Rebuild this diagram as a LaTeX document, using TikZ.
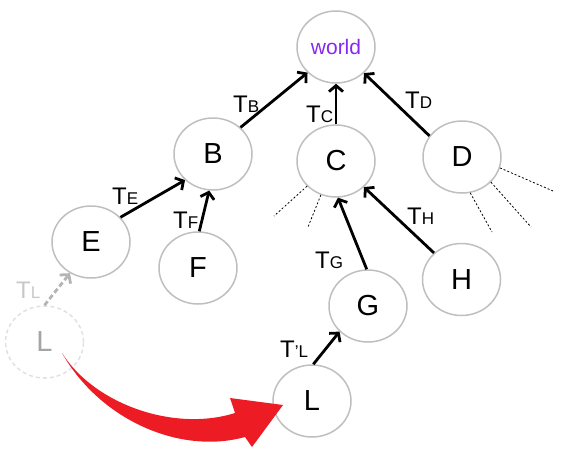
\documentclass[tikz,border=0pt]{standalone}
\usepackage{fontspec}
\setmainfont{Liberation Sans}
\usetikzlibrary{arrows.meta,shapes.geometric}
\definecolor{ringgray}{RGB}{191,191,191}
\definecolor{ghostring}{RGB}{225,225,225}
\definecolor{ghosttext}{RGB}{165,165,165}
\definecolor{ghostlabel}{RGB}{200,200,200}
\definecolor{ghostarrow}{RGB}{180,180,180}
\definecolor{worldpurple}{RGB}{135,40,240}
\definecolor{bigred}{RGB}{237,28,36}
\newcommand{\tlab}[1]{{\fontsize{24}{24}\selectfont T}{\fontsize{17}{17}\selectfont #1}}
\begin{document}
\begin{tikzpicture}[x=1pt,y=-1pt,
  circ/.style={ellipse, draw=ringgray, line width=1.5pt, minimum width=78pt, minimum height=72pt, inner sep=0pt, font=\fontsize{29}{29}\selectfont},
  ghostcirc/.style={circ, draw=ghostring, dash pattern=on 4pt off 3pt, text=ghosttext},
  edge/.style={line width=2.8pt, -{Straight Barb[length=6pt,width=14pt]}},
  ghostedge/.style={edge, draw=ghostarrow, dash pattern=on 5pt off 3pt},
  lab/.style={anchor=base west, inner sep=0pt},
  ray/.style={line width=0.8pt, dash pattern=on 2pt off 2pt}
]
\useasboundingbox (0,0) rectangle (564,452);

% nodes
\node[circ, text=worldpurple, font=\fontsize{21}{21}\selectfont] (world) at (336,47) {world};
\node[circ] (B) at (213,154) {B};
\node[circ] (C) at (336,161) {C};
\node[circ] (D) at (462,157) {D};
\node[circ] (E) at (91,242) {E};
\node[circ] (F) at (198,268) {F};
\node[circ] (G) at (368,306) {G};
\node[circ] (H) at (461.5,279.5) {H};
\node[circ] (L) at (312,401) {L};
\node[ghostcirc] (Lg) at (44.5,342) {L};

% edges
\draw[edge] (B.44) -- (world.222);
\draw[edge] (C.90) -- (world.270);
\draw[edge] (D.147) -- (world.317);
\draw[edge] (E.40) -- (B.223);
\draw[edge] (F.88) -- (B.264);
\draw[edge] (G.92) -- (C.273);
\draw[edge] (H.136) -- (C.317);
\draw[edge] (L.88) -- (G.222);
\draw[ghostedge] (Lg.90) -- (E.236);

% labels
\node[lab] (lB) at (233,112) {\tlab{B}};
\node[lab] (lC) at (306,122) {\tlab{C}};
\node[lab] (lD) at (405,108) {\tlab{D}};
\node[lab] (lE) at (112,204) {\tlab{E}};
\node[lab] (lF) at (173,228) {\tlab{F}};
\node[lab] (lG) at (315,268) {\tlab{G}};
\node[lab] (lH) at (407,224) {\tlab{H}};
\node[lab] (lL) at (280,357) {{\fontsize{24}{24}\selectfont T}{\fontsize{17}{17}\selectfont ’L}};
\node[lab, text=ghostlabel] (lLg) at (16,298) {\tlab{L}};

% dashed rays
\coordinate (c1) at (274,216);
\coordinate (c2) at (308,227);
\coordinate (d1) at (553,191);
\coordinate (d2) at (531,227);
\coordinate (d3) at (492,232);
\draw[ray] (C.221) -- (c1);
\draw[ray] (C.246) -- (c2);
\draw[ray] (D.344) -- (d1);
\draw[ray] (D.319) -- (d2);
\draw[ray] (D.283) -- (d3);

% big red arrow
\fill[bigred] (62,353) .. controls (95,405) and (175,432) .. (235,413)
  -- (230,398) -- (283,405) -- (252,447) -- (245,437)
  .. controls (180,455) and (100,420) .. (62,353) -- cycle;
\end{tikzpicture}
\end{document}
